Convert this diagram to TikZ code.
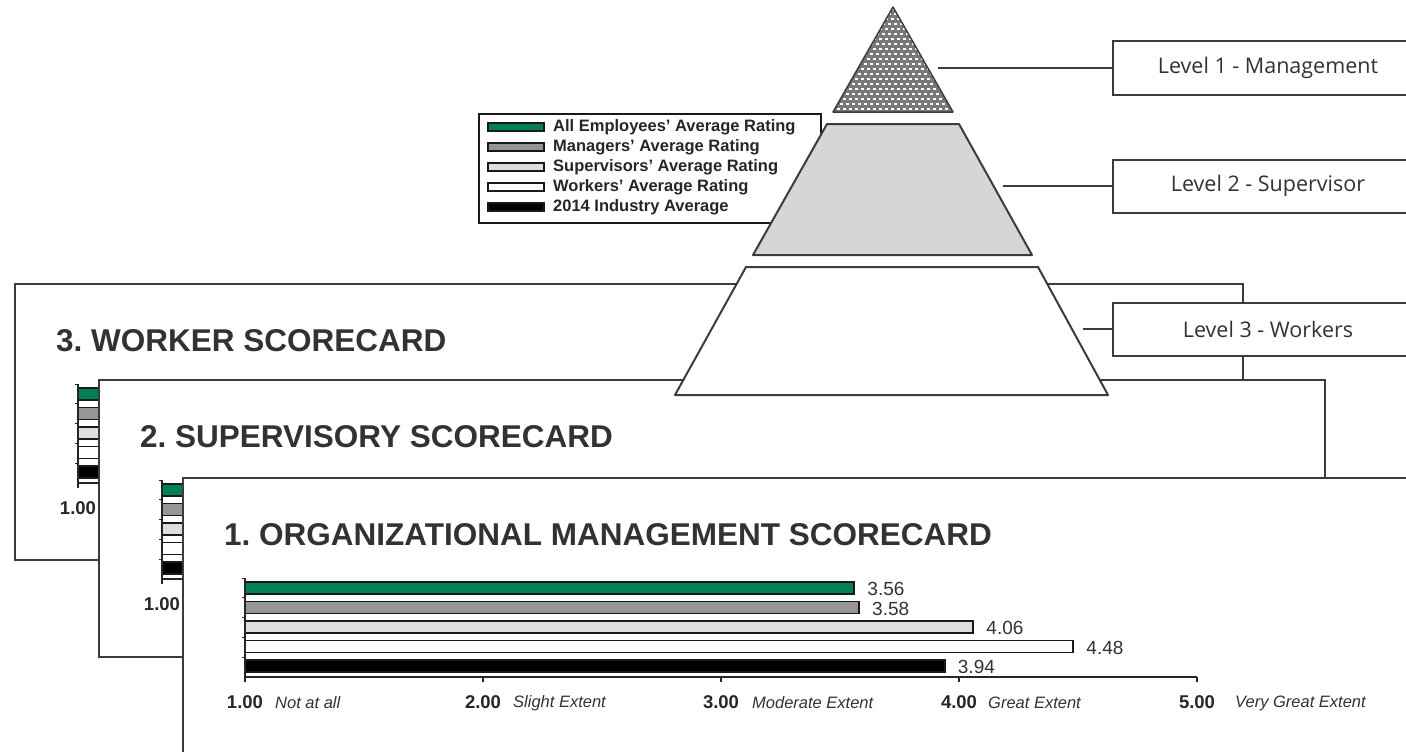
\documentclass[tikz,border=0pt]{standalone}
\usepackage{fontspec}
\setmainfont{Liberation Sans}
\newfontfamily\opensans{Open Sans}
\usetikzlibrary{positioning,calc}
\frenchspacing

\definecolor{allgreen}{RGB}{0,128,84}
\definecolor{mgrgray}{RGB}{150,150,150}
\definecolor{supgray}{RGB}{222,222,222}
\definecolor{inkgray}{RGB}{50,50,50}
\definecolor{edgegray}{RGB}{60,60,60}
\definecolor{dotgray}{RGB}{120,120,120}
\definecolor{midgray}{RGB}{214,214,214}

\begin{document}
\begin{tikzpicture}[x=1pt,y=-1pt,
  card/.style={draw=edgegray,line width=1.5pt,fill=white,anchor=north west,inner sep=0pt},
  cardtitle/.style={anchor=west,inner sep=0pt,text=inkgray,font=\fontsize{31.5}{36}\selectfont\bfseries},
  bar/.style={draw=black!90,line width=1.8pt},
  axisline/.style={draw=black!85,line width=1.5pt},
  axnum/.style={inner sep=0pt,text=black!85,font=\fontsize{18.5}{20}\selectfont\bfseries},
  axdesc/.style={anchor=west,inner sep=0pt,text=inkgray,font=\fontsize{16.5}{20}\selectfont\itshape},
  vallabel/.style={anchor=west,inner sep=0pt,text=inkgray,font=\fontsize{19}{22}\selectfont},
  tier/.style={draw=edgegray,line width=2pt,line join=round},
  lvlbox/.style={draw=edgegray,line width=2pt,fill=white,anchor=west,minimum width=310pt,minimum height=53pt,
    text=inkgray,font=\opensans\fontsize{21.5}{24}\selectfont},
  legtext/.style={anchor=west,inner sep=0pt,text=black!85,font=\fontsize{16.5}{18}\selectfont\bfseries}
]
\useasboundingbox (0,0) rectangle (1406,752);
\clip (0,0) rectangle (1406,752);

% back scorecards (only their left edge shows)
\foreach \cx/\cy/\cw/\ch/\nm/\ttl in {14/283/1228/276/wcard/{3. WORKER SCORECARD},
                                      98/379/1226/277/scard/{2. SUPERVISORY SCORECARD}} {
  \node[card,minimum width=\cw pt,minimum height=\ch pt] (\nm) at (\cx,\cy) {};
  \node[cardtitle] (\nm-title) at ({\cx+42},{\cy+58}) {\ttl};
  \foreach \c/\dy in {allgreen/89,mgrgray/69.5,supgray/50,white/30.5,black/11}
    \draw[bar,fill=\c] ({\cx+64},{\cy+200-\dy-6}) rectangle ({\cx+120},{\cy+200-\dy+6});
  \draw[axisline] ({\cx+64},{\cy+101}) -- ({\cx+64},{\cy+200}) -- ({\cx+120},{\cy+200});
  \foreach \k in {0,...,4}
    \draw[axisline,line width=1pt] ({\cx+61},{\cy+101+\k*19.8}) -- ++(3,0);
  \draw[axisline] ({\cx+64},{\cy+200}) -- ++(0,5);
  \node[axnum] (\nm-one) at ({\cx+64},{\cy+225}) {1.00};
}

% front scorecard
\node[card,minimum width=1260pt,minimum height=300pt] (ocard) at (182,477) {};
\node[cardtitle] (ocard-title) at (224,535) {1. ORGANIZATIONAL MANAGEMENT SCORECARD};
\foreach \c/\v/\y [count=\i] in {allgreen/3.56/588,mgrgray/3.58/607.5,supgray/4.06/627,white/4.48/646.5,black/3.94/666} {
  \draw[bar,fill=\c] (245,{\y-6}) rectangle ({245+238*(\v-1)},{\y+6});
  \node[vallabel] (val\i) at ({245+238*(\v-1)+13},{\y+1}) {\v};
}
\draw[axisline] (245,578) -- (245,677) -- (1197,677);
\foreach \k in {0,...,4}
  \draw[axisline,line width=1pt] (242,{578+\k*19.8}) -- ++(3,0);
\foreach \v/\txt/\dx in {1/Not at all/30,2/Slight Extent/30,3/Moderate Extent/31,4/Great Extent/29,5/Very Great Extent/38} {
  \draw[axisline] ({245+238*(\v-1)},677) -- ++(0,5);
  \node[axnum] (num\v) at ({245+238*(\v-1)},702) {\v.00};
  \node[axdesc] (desc\v) at ({245+238*(\v-1)+\dx},703) {\txt};
}

% legend
\node[draw=black!90,line width=1.8pt,fill=white,anchor=north west,minimum width=342pt,minimum height=109pt,inner sep=0pt] (legend) at (478,113) {};
\foreach \c/\txt [count=\i] in {allgreen/All Employees' Average Rating,mgrgray/Managers' Average Rating,
                               supgray/Supervisors' Average Rating,white/Workers' Average Rating,black/2014 Industry Average} {
  \draw[draw=black!90,line width=1.3pt,fill=\c] (488,{107+20*\i-4}) rectangle (544,{107+20*\i+4});
  \node[legtext] (leg\i) at (553,{107+20*\i}) {\txt};
}

% pyramid
\begin{scope}
  \clip (893,7) -- (953,112) -- (833,112) -- cycle;
  \fill[dotgray] (830,0) rectangle (956,114);
  \foreach \r in {0,...,21} {
    \pgfmathsetmacro\off{mod(\r,2)*3}
    \foreach \c in {0,...,20}
      \draw[white,line width=1.6pt] ({831+\c*6+\off},{9+\r*5}) -- ++(3.4,0);
  }
\end{scope}
\draw[tier,line width=1.5pt] (893,7) -- (953,112) -- (833,112) -- cycle;
\draw[tier,fill=midgray] (827,124) -- (959,124) -- (1032,255) -- (753,255) -- cycle;
\draw[tier,fill=white] (746,267) -- (1038,267) -- (1108,395) -- (675,395) -- cycle;

\coordinate (tier1) at (938,68);
\coordinate (tier2) at (1003,186);
\coordinate (tier3) at (1083,329);

% level labels
\node[lvlbox] (lvl1) at (1112,68) {Level 1 - Management};
\node[lvlbox] (lvl2) at (1112,186) {Level 2 - Supervisor};
\node[lvlbox] (lvl3) at (1112,329) {Level 3 - Workers};
\draw[edgegray,line width=2pt] (tier1) -- (lvl1.west);
\draw[edgegray,line width=2pt] (tier2) -- (lvl2.west);
\draw[edgegray,line width=2pt] (tier3) -- (lvl3.west);
\end{tikzpicture}
\end{document}
